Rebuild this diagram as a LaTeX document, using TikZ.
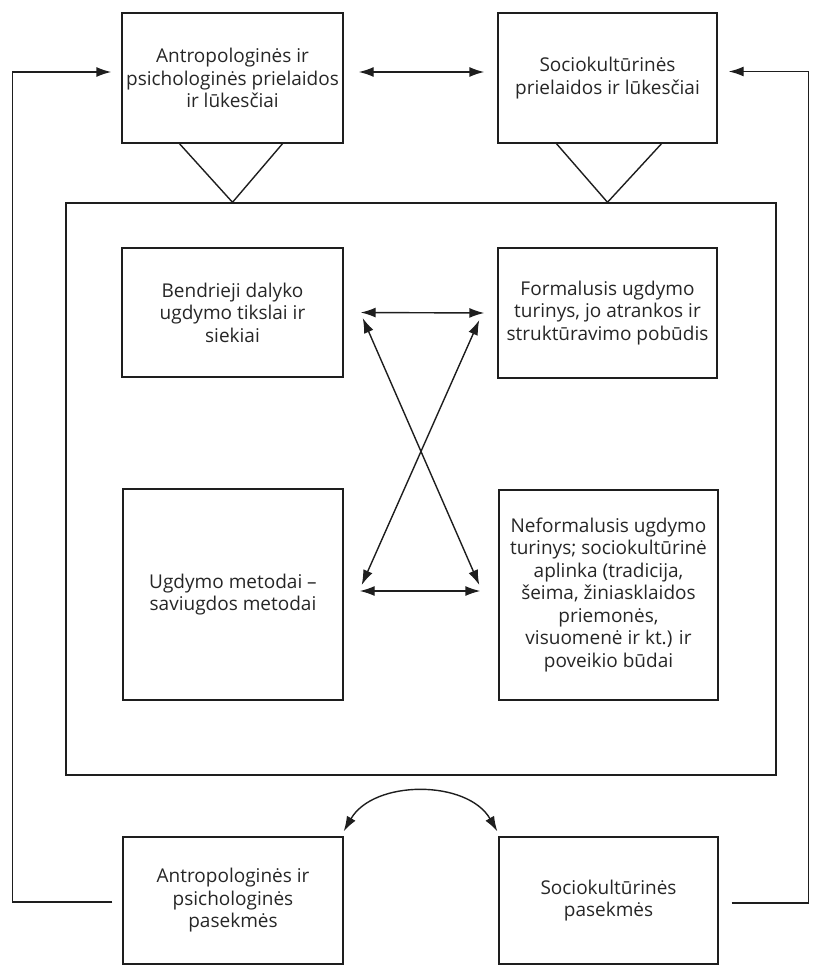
\documentclass[tikz,border=0pt]{standalone}
\usepackage{fontspec}
\setmainfont{Open Sans}
\usetikzlibrary{arrows.meta,calc}
\definecolor{ink}{HTML}{1e1e1e}
\definecolor{txt}{HTML}{262626}
\tikzset{
  box/.style={draw=ink, line width=1.4pt, rectangle, align=center, inner sep=2pt,
    text=txt, font=\fontsize{19}{22.5}\selectfont},
  conn/.style={draw=ink, line width=1.4pt},
  arr/.style={conn, -{Latex[length=15pt,width=10pt]}},
  darr/.style={conn, {Latex[length=15pt,width=10pt]}-{Latex[length=15pt,width=10pt]}}
}
\begin{document}
\begin{tikzpicture}[x=1pt,y=-1pt]
\useasboundingbox (0,0) rectangle (823,966);
% top boxes
\node[box, minimum width=221, minimum height=130] (A) at (232.5,78) {Antropologinės ir\\psichologinės prielaidos\\ir lūkesčiai};
\node[box, minimum width=219, minimum height=130] (B) at (607.5,78) {Sociokultūrinės\\prielaidos ir lūkesčiai};
% big box
\node[draw=ink, line width=1.4pt, minimum width=710, minimum height=572, inner sep=0] (big) at (421,489) {};
% inner boxes
\node[box, minimum width=221, minimum height=129] (C) at (232.5,312.5) {Bendrieji dalyko\\ugdymo tikslai ir\\siekiai};
\node[box, minimum width=219, minimum height=130] (D) at (607.5,313) {Formalusis ugdymo\\turinys, jo atrankos ir\\struktūravimo pobūdis};
\node[box, minimum width=220, minimum height=211] (E) at (233,594.5) {Ugdymo metodai --\\saviugdos metodai};
\node[box, minimum width=219, minimum height=210] (F) at (608.5,595) {Neformalusis ugdymo\\turinys; sociokultūrinė\\aplinka (tradicija,\\šeima, žiniasklaidos\\priemonės,\\visuomenė ir kt.) ir\\poveikio būdai};
% bottom boxes
\node[box, minimum width=220, minimum height=127] (G) at (233,900.5) {Antropologinės ir\\psichologinės\\pasekmės};
\node[box, minimum width=219, minimum height=127] (H) at (608.5,900.5) {Sociokultūrinės\\pasekmės};
% V connectors
\draw[conn] ($(A.south)+(-53,0)$) -- (A.south |- big.north) -- ($(A.south)+(50,0)$);
\draw[conn] ($(B.south)+(-51,0)$) -- (B.south |- big.north) -- ($(B.south)+(54,0)$);
\draw[conn] ($(G.north)+(-53,0)$ |- big.south) -- (G.north) -- ($(G.north)+(50,0)$ |- big.south);
\draw[conn] ($(H.north)+(-47,0)$ |- big.south) -- ($(H.north)+(4,0)$) -- ($(H.north)+(55,0)$ |- big.south);
% arrows between top boxes
\draw[darr] ($(A.east)+(15,-6)$) -- ($(B.west)+(-13,-6)$);
% feedback loops
\coordinate (gl) at ($(G.west)+(-10,1.5)$);
\coordinate (al) at ($(A.west)+(-10,-6)$);
\draw[arr] (gl) -- ++(-100,0) |- (al);
\coordinate (hr) at ($(H.east)+(13,2.5)$);
\coordinate (br) at ($(B.east)+(11,-6.5)$);
\draw[arr] (hr) -- ++(77,0) |- (br);
% inner arrows
\draw[darr] ($(C.east)+(17,0)$) -- ($(D.west)+(-13,0)$);
\draw[darr] ($(E.east)+(16,-3.5)$) -- ($(F.west)+(-18,-4)$);
\draw[darr] ($(C.east)+(19,5.5)$) -- ($(F.west)+(-19,-10)$);
\draw[darr] ($(D.west)+(-18,7)$) -- ($(E.east)+(18,-9.5)$);
% curved arrow between bottom boxes
\draw[darr] ($(G.north east)+(0,-5)$) to[out=60,in=120] ($(H.north west)+(-1,-5)$);
\end{tikzpicture}
\end{document}
